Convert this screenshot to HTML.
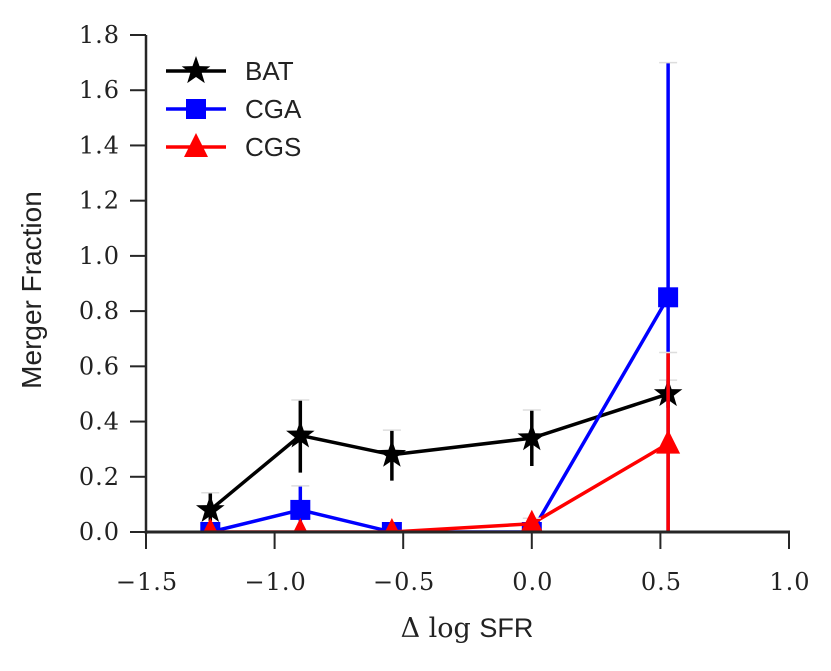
<!DOCTYPE html>
<html><head><meta charset="utf-8"><style>
body{margin:0;background:#fff}
svg text{font-family:"DejaVu Serif","Liberation Serif",serif;font-size:24px;fill:#222}
.tick{letter-spacing:1px}
.sans{font-family:"Liberation Sans",sans-serif;letter-spacing:0}
</style></head><body>
<svg id="chart" width="831" height="666" viewBox="0 0 831 666" xmlns="http://www.w3.org/2000/svg">
<defs><clipPath id="clip"><rect x="146" y="0" width="700" height="532"/></clipPath></defs>
<g id="plot"></g>
</svg>
<script>
const xVals = [-1.25, -0.9, -0.544, 0.0, 0.53];
const batVals = [0.08, 0.35, 0.28, 0.34, 0.50];
const batLo = [0.04, 0.215, 0.186, 0.239, 0.45];
const batHi = [0.142, 0.478, 0.369, 0.442, 0.55];
const cgaVals = [0.0, 0.08, 0.0, 0.0, 0.85];
const cgaLo = [0.0, 0.0, 0.0, 0.0, 0.0];
const cgaHi = [0.0, 0.167, 0.0, 0.0, 1.70];
const cgsVals = [0.0, 0.0, 0.0, 0.03, 0.32];
const cgsLo = [0.0, 0.0, 0.0, 0.0, 0.0];
const cgsHi = [0.0, 0.0, 0.0, 0.05, 0.65];
const xTicks = [-1.5, -1.0, -0.5, 0.0, 0.5, 1.0];
const xTickLabels = ["\u22121.5", "\u22121.0", "\u22120.5", "0.0", "0.5", "1.0"];
const yTicks = [0, 0.2, 0.4, 0.6, 0.8, 1.0, 1.2, 1.4, 1.6, 1.8];
const yTickLabels = ["0.0", "0.2", "0.4", "0.6", "0.8", "1.0", "1.2", "1.4", "1.6", "1.8"];

const NS = "http://www.w3.org/2000/svg";
const g = document.getElementById('plot');
const X = v => 146 + (v + 1.5) / 2.5 * 643;
const Y = v => 532 - v / 1.8 * 497;
function el(tag, attrs, parent) {
  const e = document.createElementNS(NS, tag);
  for (const k in attrs) e.setAttribute(k, attrs[k]);
  (parent || g).appendChild(e);
  return e;
}
function txt(s, attrs) { const t = el('text', attrs); t.textContent = s; return t; }

const data = el('g', {'clip-path':'url(#clip)'});



function star(cx, cy, r, color, p) {
  let d = '';
  for (let k = 0; k < 10; k++) {
    const ang = -Math.PI / 2 + k * Math.PI / 5;
    const rr = k % 2 ? r * 0.4 : r;
    d += (k ? 'L' : 'M') + (cx + rr * Math.cos(ang)).toFixed(1) + ',' + (cy + rr * Math.sin(ang)).toFixed(1);
  }
  return el('path', {d: d + 'Z', fill: color}, p);
}
function marker(type, cx, cy, color, p) {
  if (type === 'star') return star(cx, cy, 15, color, p);
  if (type === 'square') return el('rect', {x:cx - 10, y:cy - 10, width:20, height:20, fill:color}, p);
  return el('path', {d:`M${cx},${cy - 14}L${cx + 12},${cy + 10}L${cx - 12},${cy + 10}Z`, fill:color}, p);
}
function series(name, vals, lo, hi, color, type) {
  const pts = vals.map((v, i) => X(xVals[i]) + ',' + Y(v)).join(' ');
  const ln = el('polyline', {points:pts, fill:'none', stroke:color, 'stroke-width':3.5}, data);
  
  
  vals.forEach((v, i) => {
    if (hi[i] > lo[i]) {
      const e = el('line', {x1:X(xVals[i]), y1:Y(lo[i]), x2:X(xVals[i]), y2:Y(hi[i]), stroke:color, 'stroke-width':3.5}, data);
      
      
      const c = el('line', {x1:X(xVals[i]) - 9, y1:Y(hi[i]), x2:X(xVals[i]) + 9, y2:Y(hi[i]), stroke:'#ddd', 'stroke-width':1.5}, data);
      
      
    }
    const m = marker(type, X(xVals[i]), Y(v), color, data);
    
    
  });
}
series('bat', batVals, batLo, batHi, '#000', 'star');
series('cga', cgaVals, cgaLo, cgaHi, '#0000ff', 'square');
series('cgs', cgsVals, cgsLo, cgsHi, '#ff0000', 'triangle');

// axes
let a = el('line', {x1:146, y1:35, x2:146, y2:534, stroke:'#262626', 'stroke-width':2.5});


a = el('line', {x1:145, y1:532, x2:790, y2:532, stroke:'#262626', 'stroke-width':3});



xTicks.forEach((v, i) => {
  const t = el('line', {x1:X(v), y1:532, x2:X(v), y2:549, stroke:'#262626', 'stroke-width':2});
  
  
  const l = txt(xTickLabels[i], {x:X(v) + 1, y:590, 'text-anchor':'middle', class:'tick'});
  
  
});
yTicks.forEach((v, i) => {
  const t = el('line', {x1:130, y1:Y(v), x2:146, y2:Y(v), stroke:'#262626', 'stroke-width':2});
  
  
  const l = txt(yTickLabels[i], {x:120, y:Y(v) + 8, 'text-anchor':'end', class:'tick'});
  
  
});
let xt = txt('', {x:467, y:637, 'text-anchor':'middle', style:'font-size:27px'});
xt.innerHTML = '<tspan>\u0394 log </tspan><tspan class="sans">SFR</tspan>';


let yt = txt('Merger Fraction', {x:0, y:0, 'text-anchor':'middle', class:'sans', style:'font-size:28px', transform:'translate(41,290) rotate(-90)'});



// legend
const leg = [['BAT', '#000', 'star'], ['CGA', '#0000ff', 'square'], ['CGS', '#ff0000', 'triangle']];
leg.forEach((d, i) => {
  const y = 71 + i * 38;
  const l = el('line', {x1:166, y1:y, x2:226, y2:y, stroke:d[1], 'stroke-width':3.5});
  
  
  const m = marker(d[2], 196, y, d[1]);
  
  
  const t = txt(d[0], {x:245, y:y + 9, class:'sans', style:'font-size:26px'});
  
  
});
</script>
</body></html>
